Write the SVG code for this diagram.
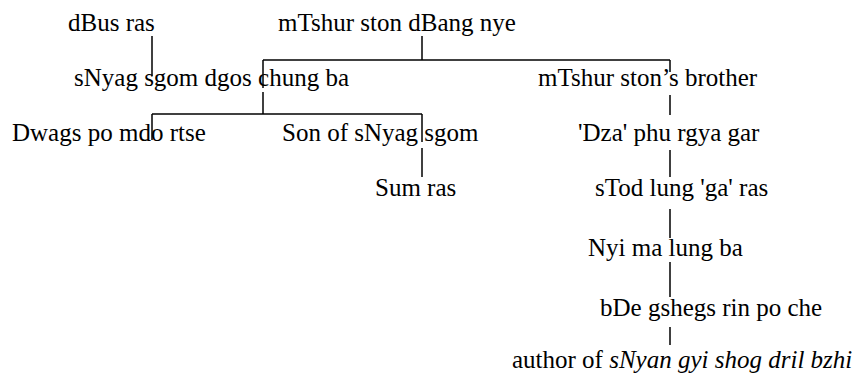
<svg xmlns="http://www.w3.org/2000/svg" width="861" height="373" viewBox="0 0 861 373">
<style>
.c line{stroke:#000;stroke-width:1.5;fill:none}
.i{font-style:italic}
</style>
<rect width="861" height="373" fill="#fff"/>
<g id="connectors" class="c">
<line x1="152" y1="36" x2="152" y2="76"/>
<line x1="422" y1="36" x2="422" y2="60"/>
<line x1="263" y1="60" x2="670" y2="60"/>
<line x1="263" y1="60" x2="263" y2="88"/>
<line x1="670" y1="60" x2="670" y2="72"/>
<line x1="263" y1="92" x2="263" y2="114"/>
<line x1="152" y1="114" x2="422" y2="114"/>
<line x1="152" y1="114" x2="152" y2="140"/>
<line x1="422" y1="114" x2="422" y2="142"/>
<line x1="422" y1="148" x2="422" y2="177"/>
<line x1="670" y1="95" x2="670" y2="115"/>
<line x1="670" y1="150" x2="670" y2="177"/>
<line x1="670" y1="209" x2="670" y2="238"/>
<line x1="670" y1="262" x2="670" y2="297"/>
<line x1="670" y1="327" x2="670" y2="345"/>
</g>
<g font-family="Liberation Serif, serif" font-size="25" fill="#000">
<g id="dBus-ras"><text x="68" y="31">dBus ras</text></g>
<g id="mTshur-ston"><text x="278" y="31">mTshur ston dBang nye</text></g>
<g id="sNyag-sgom"><text x="74" y="86">sNyag sgom dgos chung ba</text></g>
<g id="brother"><text x="538" y="86">mTshur ston’s brother</text></g>
<g id="Dwags-po"><text x="12" y="141">Dwags po mdo rtse</text></g>
<g id="son-of-sNyag"><text x="282" y="141">Son of sNyag sgom</text></g>
<g id="Dza-phu"><text x="578" y="141">'Dza' phu rgya gar</text></g>
<g id="Sum-ras"><text x="375" y="196">Sum ras</text></g>
<g id="sTod-lung"><text x="595" y="196">sTod lung 'ga' ras</text></g>
<g id="Nyi-ma"><text x="588" y="256">Nyi ma lung ba</text></g>
<g id="bDe-gshegs"><text x="600" y="316">bDe gshegs rin po che</text></g>
<g id="author"><text x="512" y="368">author of <tspan class="i">sNyan gyi shog dril bzhi</tspan></text></g>
</g>
</svg>
